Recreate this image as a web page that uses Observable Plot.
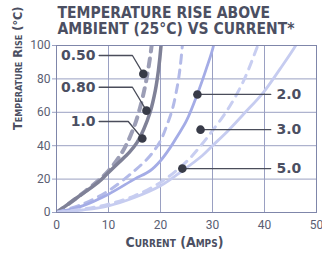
<!DOCTYPE html>
<html><head><meta charset="utf-8">
<script src="https://cdn.jsdelivr.net/npm/d3@7"></script>
<script src="https://cdn.jsdelivr.net/npm/@observablehq/plot@0.6"></script>
<style>
html,body{margin:0;padding:0;background:#fff;overflow:hidden;}
</style></head>
<body><div id="chart"></div>
<script>
// Series: wire rating labels and curves (current in A, temperature rise in °C)
const ratings = ["0.50", "0.80", "1.0", "2.0", "3.0", "5.0"];
const current050 = [0, 4, 8, 10, 12, 13.5, 15, 16, 17, 17.7, 18.3, 18.6];
const temp050    = [0, 9, 19, 25, 33, 41, 52, 62, 75, 87, 100, 110];
const current080 = [0, 4, 8, 10, 12, 14, 15.5, 16.8, 18, 19, 19.6, 20.1, 20.3];
const temp080    = [0, 9, 18, 24, 30, 36, 42, 50, 60, 73, 85, 100, 110];
const current10  = [0, 5, 10, 15, 18, 20, 21.2, 22.3, 23.2, 23.7, 24.2, 24.4];
const temp10     = [0, 5, 13, 25, 34, 43, 52, 62, 75, 85, 100, 110];
const current20  = [0, 5, 10, 15, 18, 20, 21.9, 23.3, 25, 27.1, 28.8, 30.2, 30.6];
const temp20     = [0, 4, 11, 20, 25, 31, 39, 46, 55, 71, 86, 100, 110];
const current30  = [0, 5, 10, 15, 20, 23, 25.5, 28, 30, 33, 36, 38.7, 39.5];
const temp30     = [0, 2, 5, 10, 18, 25, 32, 41, 49, 62, 79, 100, 107];
const current50  = [0, 5, 10, 15, 20, 24.2, 28, 30, 33, 36, 39.8, 43, 46, 47];
const temp50     = [0, 1.5, 4, 9, 16, 25, 34, 40, 49, 59, 72, 86, 100, 106];

// Callout points (data units)
const dotCurrent   = [16.7, 17.3, 16.5, 27.1, 27.7, 24.2];
const dotTemp      = [83, 61, 44.3, 70.7, 49.6, 26.3];
const leaderStartX = [8.2, 8.2, 8.2, 41.2, 41.2, 41.2];
const leaderElbowX = [14.6, 14.6, 13.8, 41.2, 41.2, 41.2];
const labelTemp    = [94, 75, 54.5, 70.7, 49.6, 26.3];
const labelCurrent = [7.5, 7.5, 7.5, 42.3, 42.3, 42.3];

const xTicks = [0, 10, 20, 30, 40, 50];
const yTicks = [0, 20, 40, 60, 80, 100];

const titleLine1 = "TEMPERATURE RISE ABOVE";
const titleLine2 = "AMBIENT (25°C) VS CURRENT*";
const xLabel = "Current (Amps)";
const yLabel = "Temperature Rise (°C)";

const curveX = [current050, current080, current10, current20, current30, current50];
const curveY = [temp050, temp080, temp10, temp20, temp30, temp50];
const curves = ratings.flatMap((r, i) => curveX[i].map((x, j) => ({rating: r, current: x, temp: curveY[i][j]})));

const styles = {
  "0.50": {stroke: "#9c9eb6", w: 4, dash: "8,7"},
  "0.80": {stroke: "#7f8197", w: 3.5, dash: null},
  "1.0":  {stroke: "#b3bae8", w: 3, dash: "8,7"},
  "2.0":  {stroke: "#a4ace6", w: 2.8, dash: null},
  "3.0":  {stroke: "#c8cef1", w: 3, dash: "8,7"},
  "5.0":  {stroke: "#c6ccf0", w: 2.8, dash: null}
};

const leaders = ratings.flatMap((r, i) => i < 3
  ? [{r, x: leaderStartX[i], y: labelTemp[i]}, {r, x: leaderElbowX[i], y: labelTemp[i]}, {r, x: dotCurrent[i], y: dotTemp[i]}]
  : [{r, x: dotCurrent[i], y: dotTemp[i]}, {r, x: leaderStartX[i], y: labelTemp[i]}]);
const dots = ratings.map((r, i) => ({r, x: dotCurrent[i], y: dotTemp[i]}));
const labels = ratings.map((r, i) => ({r, x: labelCurrent[i], y: labelTemp[i], left: i < 3}));

const grid = "#9aa0c2";
const ink = "#4b4f62";
const condensed = "'DejaVu Sans Condensed', 'DejaVu Sans', sans-serif";

const chart = Plot.plot({
  width: 322, height: 259,
  marginTop: 45, marginBottom: 47, marginLeft: 56, marginRight: 6,
  x: {domain: [0, 50], ticks: xTicks, label: null},
  y: {domain: [0, 100], ticks: yTicks, label: null},
  style: {fontFamily: "Roboto, 'Liberation Sans', sans-serif", fontSize: "12px", color: "#5a5e72", background: "#fff"},
  marks: [
    Plot.gridX(xTicks, {stroke: grid, strokeOpacity: 1, strokeWidth: 1}),
    Plot.gridY(yTicks, {stroke: grid, strokeOpacity: 1, strokeWidth: 1}),
    ...ratings.map(r => Plot.line(curves.filter(d => d.rating === r), {
      x: "current", y: "temp", stroke: styles[r].stroke, strokeWidth: styles[r].w,
      strokeDasharray: styles[r].dash, curve: "catmull-rom", clip: true
    })),
    Plot.frame({stroke: "#7f86aa", strokeWidth: 1}),
    Plot.axisX(xTicks, {tickSize: 0, tickPadding: 8, fontSize: 12, stroke: grid}),
    Plot.axisY(yTicks, {tickSize: 4, tickPadding: 2, fontSize: 12, stroke: grid}),
    Plot.line(leaders, {x: "x", y: "y", z: "r", stroke: "#4a4d5a", strokeWidth: 1.3}),
    Plot.dot(dots, {x: "x", y: "y", r: 4.3, fill: "#383b48", stroke: "none"}),
    Plot.text(labels.filter(d => d.left), {x: "x", y: "y", text: "r", textAnchor: "end", fontWeight: "bold", fontSize: 14, fill: ink, fontFamily: "'DejaVu Sans', sans-serif"}),
    Plot.text(labels.filter(d => !d.left), {x: "x", y: "y", text: "r", textAnchor: "start", fontWeight: "bold", fontSize: 14, fill: ink, fontFamily: "'DejaVu Sans', sans-serif"}),
    Plot.text([titleLine1], {frameAnchor: "top-left", textAnchor: "start", lineAnchor: "bottom", dy: -28, dx: 1, fontSize: 15.5, fontWeight: "bold", fill: ink, fontFamily: condensed}),
    Plot.text([titleLine2], {frameAnchor: "top-left", textAnchor: "start", lineAnchor: "bottom", dy: -12, dx: 1, fontSize: 15.5, fontWeight: "bold", fill: ink, fontFamily: condensed}),
    Plot.text([xLabel], {frameAnchor: "bottom", dy: 34, dx: -12, fontSize: 14, fontWeight: "bold", fontVariant: "small-caps", fill: ink, fontFamily: condensed}),
    Plot.text([yLabel], {frameAnchor: "left", dx: -39, dy: 1, rotate: -90, fontSize: 12.5, fontWeight: "bold", fontVariant: "small-caps", fill: ink, fontFamily: condensed})
  ]
});
document.getElementById("chart").appendChild(chart);
</script>
</body></html>
